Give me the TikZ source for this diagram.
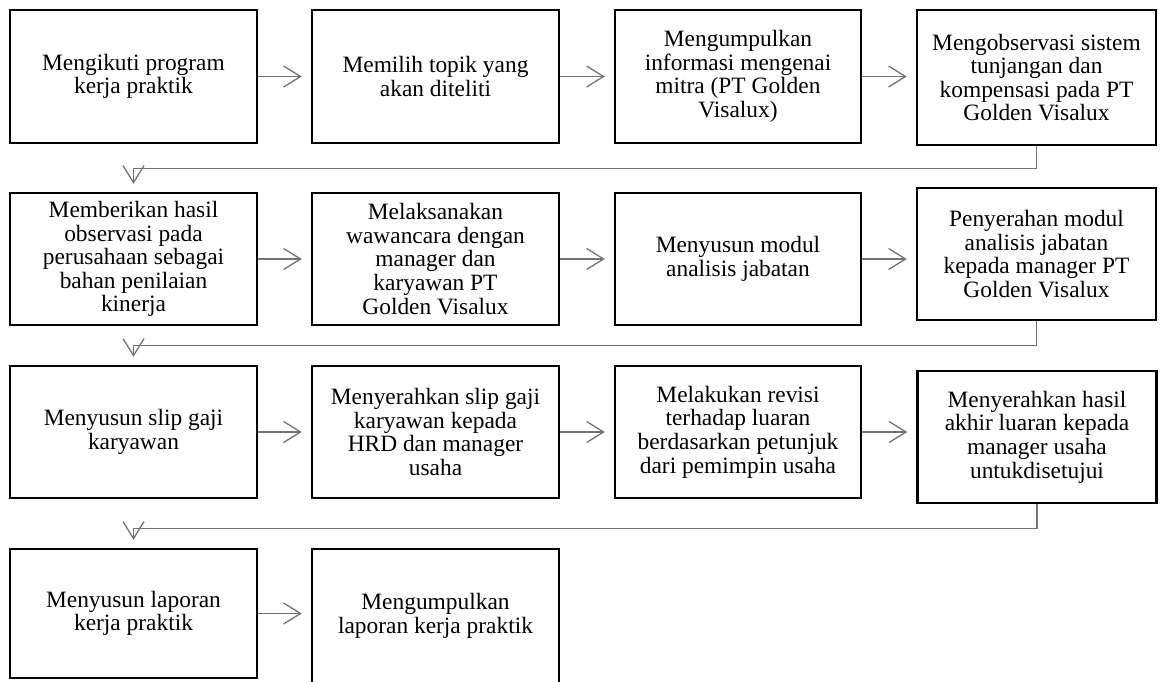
\documentclass[tikz,border=0pt]{standalone}
\usepackage{fontspec}
\setmainfont{Liberation Serif}
\usetikzlibrary{arrows.meta}

\tikzset{
  stepbox/.style={draw=black, line width=2.4pt, fill=white, align=center,
    inner sep=2pt, font=\fontsize{23.4}{23.6}\selectfont},
  flow/.style={draw=black!55, line width=1.3pt,
    -{Straight Barb[length=17pt,width=21pt,line width=1.3pt]}},
}

\begin{document}
\begin{tikzpicture}[x=1pt,y=-1pt]
\useasboundingbox (0,0) rectangle (1160,681);
\clip (0,0) rectangle (1160,681);
% first row
\node[stepbox, minimum width=247pt, minimum height=133pt] (b1) at (133.5,76.5) {Mengikuti program\\kerja praktik};
\node[stepbox, minimum width=247pt, minimum height=133pt] (b2) at (435.5,76.5) {Memilih topik yang\\akan diteliti};
\node[stepbox, minimum width=246pt, minimum height=133pt] (b3) at (738,76.5) {Mengumpulkan\\informasi mengenai\\mitra (PT Golden\\Visalux)};
\node[stepbox, minimum width=239pt, minimum height=135pt] (b4) at (1036.5,77.5) {Mengobservasi sistem\\tunjangan dan\\kompensasi pada PT\\Golden Visalux};
% second row
\node[stepbox, minimum width=247pt, minimum height=132pt] (b5) at (133.5,259) {Memberikan hasil\\observasi pada\\perusahaan sebagai\\bahan penilaian\\kinerja};
\node[stepbox, minimum width=247pt, minimum height=132pt] (b6) at (435.5,259) {Melaksanakan\\wawancara dengan\\manager dan\\karyawan PT\\Golden Visalux};
\node[stepbox, minimum width=246pt, minimum height=132pt] (b7) at (738,259) {Menyusun modul\\analisis jabatan};
\node[stepbox, minimum width=239pt, minimum height=132pt] (b8) at (1036.5,254) {Penyerahan modul\\analisis jabatan\\kepada manager PT\\Golden Visalux};
% third row
\node[stepbox, minimum width=247pt, minimum height=132pt] (b9) at (133.5,432) {Menyusun slip gaji\\karyawan};
\node[stepbox, minimum width=247pt, minimum height=132pt] (b10) at (435.5,432) {Menyerahkan slip gaji\\karyawan kepada\\HRD dan manager\\usaha};
\node[stepbox, minimum width=246pt, minimum height=132pt] (b11) at (738,432) {Melakukan revisi\\terhadap luaran\\berdasarkan petunjuk\\dari pemimpin usaha};
\node[stepbox, minimum width=239pt, minimum height=132pt] (b12) at (1037,437) {Menyerahkan hasil\\akhir luaran kepada\\manager usaha\\untukdisetujui};
% last row
\node[stepbox, minimum width=247pt, minimum height=129pt] (b13) at (133.5,613.5) {Menyusun laporan\\kerja praktik};
\node[stepbox, minimum width=247pt, minimum height=134pt] (b14) at (435.5,616) {Mengumpulkan\\laporan kerja praktik};

\foreach \a/\b in {b1/b2,b2/b3,b3/b4,b5/b6,b6/b7,b7/b8,b9/b10,b10/b11,b11/b12,b13/b14}
  \draw[flow, shorten >=9pt] (\a.east) -- (\a.east -| \b.west);

% row to row
\draw[flow, shorten >=8pt] (b4.south) -- ++(0,22) -| (b5.north);
\draw[flow, shorten >=8pt] (b8.south) -- ++(0,24) -| (b9.north);
\draw[flow, shorten >=8pt] (b12.south) -- ++(0,24) -| (b13.north);
\end{tikzpicture}
\end{document}
